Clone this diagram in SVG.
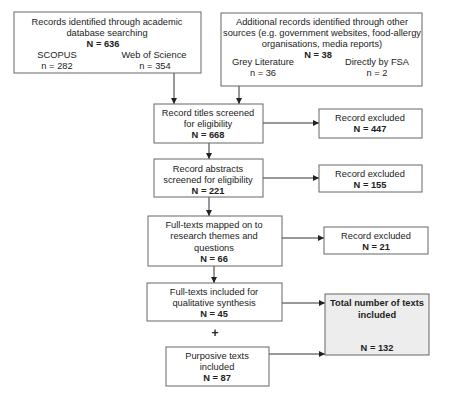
<svg xmlns="http://www.w3.org/2000/svg" width="454" height="400" viewBox="0 0 454 400">
<defs>
<marker id="ah" viewBox="0 0 6 6" refX="6" refY="3" markerWidth="6" markerHeight="6" markerUnits="userSpaceOnUse" orient="auto">
<path d="M0,0 L6,3 L0,6 Z" fill="#222"/>
</marker>
</defs>
<style>
rect{fill:#fff;stroke:#666;stroke-width:1}
rect.total{fill:#ededed}
text{font-family:"Liberation Sans",Arial,sans-serif;font-size:9.3px;fill:#222;text-anchor:middle}
text.b{font-weight:bold}
.c line,.c path{stroke:#333;stroke-width:1;fill:none}
</style>
<rect x="0" y="0" width="454" height="400" style="fill:#fff;stroke:none"/>
<g class="c" id="connectors">
<line x1="103" y1="67" x2="103" y2="56" marker-end="url(#ah)"/>
<line x1="87" y1="67" x2="119" y2="67"/>
<line x1="318" y1="74" x2="318" y2="63" marker-end="url(#ah)"/>
<line x1="302" y1="74" x2="333" y2="74"/>
<line x1="174" y1="73" x2="174" y2="104" marker-end="url(#ah)"/>
<line x1="239" y1="86" x2="239" y2="104" marker-end="url(#ah)"/>
<line x1="263" y1="123" x2="319" y2="123" marker-end="url(#ah)"/>
<line x1="209" y1="143" x2="209" y2="159" marker-end="url(#ah)"/>
<line x1="263" y1="178" x2="319" y2="178" marker-end="url(#ah)"/>
<line x1="209" y1="197" x2="209" y2="216" marker-end="url(#ah)"/>
<line x1="282" y1="238" x2="324" y2="238" marker-end="url(#ah)"/>
<line x1="214" y1="266" x2="214" y2="283" marker-end="url(#ah)"/>
<line x1="282" y1="303" x2="325" y2="303" marker-end="url(#ah)"/>
<line x1="269" y1="354" x2="325" y2="354" marker-end="url(#ah)"/>
</g>
<g id="academic">
<rect x="14" y="12" width="187" height="61"/>
<text x="107" y="25">Records identified through academic</text>
<text x="107" y="36">database searching</text>
<text x="103" y="47" class="b">N = 636</text>
<text x="57" y="58">SCOPUS</text>
<text x="57" y="69">n = 282</text>
<text x="154" y="58">Web of Science</text>
<text x="155" y="69">n = 354</text>
</g>
<g id="additional">
<rect x="221" y="13" width="201" height="73"/>
<text x="322" y="25">Additional records identified through other</text>
<text x="322" y="36">sources (e.g. government websites, food-allergy</text>
<text x="322" y="47">organisations, media reports)</text>
<text x="318" y="58" class="b">N = 38</text>
<text x="263" y="65">Grey Literature</text>
<text x="263" y="76">n = 36</text>
<text x="377" y="65">Directly by FSA</text>
<text x="377" y="76">n = 2</text>
</g>
<g id="titles">
<rect x="154" y="104" width="109" height="39"/>
<text x="208" y="116">Record titles screened</text>
<text x="208" y="127">for eligibility</text>
<text x="208" y="138" class="b">N = 668</text>
</g>
<g id="excl1">
<rect x="319" y="109" width="103" height="29"/>
<text x="370" y="121">Record excluded</text>
<text x="370" y="132" class="b">N = 447</text>
</g>
<g id="abstracts">
<rect x="154" y="159" width="109" height="38"/>
<text x="208" y="172">Record abstracts</text>
<text x="208" y="183">screened for eligibility</text>
<text x="208" y="194" class="b">N = 221</text>
</g>
<g id="excl2">
<rect x="319" y="165" width="103" height="27"/>
<text x="370" y="177">Record excluded</text>
<text x="370" y="188" class="b">N = 155</text>
</g>
<g id="mapped">
<rect x="148" y="216" width="134" height="50"/>
<text x="214" y="228">Full-texts mapped on to</text>
<text x="214" y="239">research themes and</text>
<text x="214" y="251">questions</text>
<text x="214" y="262" class="b">N = 66</text>
</g>
<g id="excl3">
<rect x="324" y="227" width="104" height="27"/>
<text x="376" y="239">Record excluded</text>
<text x="376" y="250" class="b">N = 21</text>
</g>
<g id="fulltexts">
<rect x="147" y="283" width="135" height="38"/>
<text x="214" y="295">Full-texts included for</text>
<text x="214" y="306">qualitative synthesis</text>
<text x="214" y="317" class="b">N = 45</text>
</g>
<text x="215" y="337" class="b" style="font-size:12px">+</text>
<g id="purposive">
<rect x="166" y="347" width="103" height="39"/>
<text x="217" y="359">Purposive texts</text>
<text x="217" y="370">included</text>
<text x="217" y="381" class="b">N = 87</text>
</g>
<g id="total">
<rect class="total" x="325" y="294" width="104" height="61"/>
<text x="377" y="306" class="b">Total number of texts</text>
<text x="377" y="318" class="b">included</text>
<text x="377" y="351" class="b">N = 132</text>
</g>
</svg>
